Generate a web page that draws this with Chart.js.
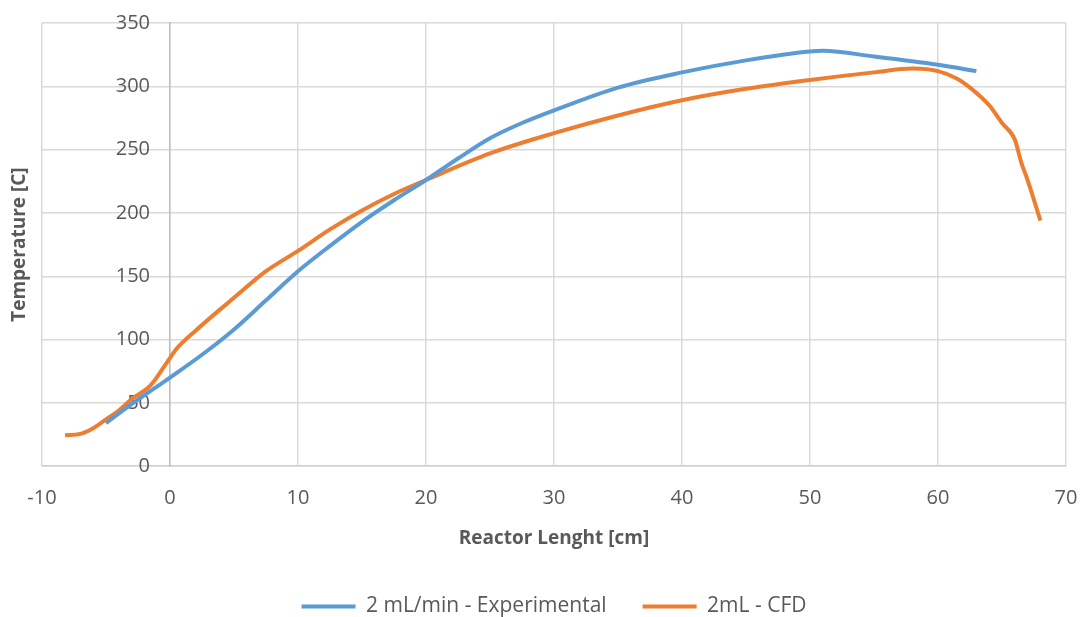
<!DOCTYPE html>
<html>
<head>
<meta charset="utf-8">
<script src="https://cdn.jsdelivr.net/npm/chart.js@4"></script>
<style>
  html, body { margin: 0; padding: 0; background: #fff; }
  #wrap { width: 1083px; height: 617px; }
</style>
</head>
<body>
<div id="wrap"><canvas id="tempChart"></canvas></div>
<script>
// Experimental series (reactor length in cm, temperature in C)
const expLength = [-5, -3, 0, 2.5, 5, 7.5, 10, 12.5, 15, 17.5, 20, 22.5, 25, 27.5, 30, 35, 40, 45, 50, 51, 55, 60, 63];
const expTemp   = [34, 49, 70, 88, 108, 131, 154, 174, 193, 210, 226, 243, 259, 271, 281, 299, 311, 320.5, 327.5, 328, 323.5, 317, 312];

// CFD series
const cfdLength = [-8.2, -7, -6, -5, -4, -3, -1.5, -0.3, 0.5, 2, 5, 7.5, 10, 12.5, 15, 17.5, 20, 25, 30, 35, 40, 45, 50, 55, 58, 60, 61.5, 62.5, 64, 65, 66, 66.5, 67, 68];
const cfdTemp   = [24.5, 25.5, 30, 37, 44, 53, 64, 81, 92.5, 107, 133, 154, 170, 187, 202, 215, 226, 247, 263, 277, 289, 298, 305, 311, 314, 312, 306, 299, 285, 271, 258, 240, 226, 194];

const seriesNames = ['2 mL/min - Experimental', '2mL - CFD'];
const xTitle = 'Reactor Lenght [cm]';
const yTitle = 'Temperature [C]';

const FONT = "'Open Sans', 'Noto Sans', sans-serif";
const TEXT = '#595959';

function toPoints(xs, ys) {
    return xs.map((x, i) => ({x: x, y: ys[i]}));
}

// y axis sits at x = 0, so its title is drawn at the left edge by hand
const yTitlePlugin = {
    id: 'yTitle',
    afterDraw(chart) {
        const ctx = chart.ctx;
        const area = chart.chartArea;
        ctx.save();
        ctx.translate(20, (area.top + area.bottom) / 2);
        ctx.rotate(-Math.PI / 2);
        ctx.font = "bold 19px " + FONT;
        ctx.fillStyle = TEXT;
        ctx.textAlign = 'center';
        ctx.textBaseline = 'middle';
        ctx.fillText(yTitle, 0, 0);
        ctx.restore();
    }
};

const ctx = document.getElementById('tempChart').getContext('2d');
new Chart(ctx, {
    type: 'line',
    data: {
        datasets: [
            {
                label: seriesNames[0],
                data: toPoints(expLength, expTemp),
                borderColor: '#5B9BD5',
                backgroundColor: '#5B9BD5',
                borderWidth: 4,
                pointRadius: 0,
                cubicInterpolationMode: 'monotone',
                fill: false
            },
            {
                label: seriesNames[1],
                data: toPoints(cfdLength, cfdTemp),
                borderColor: '#ED7D31',
                backgroundColor: '#ED7D31',
                borderWidth: 4,
                pointRadius: 0,
                cubicInterpolationMode: 'monotone',
                fill: false
            }
        ]
    },
    options: {
        responsive: true,
        maintainAspectRatio: false,
        animation: false,
        layout: {
            padding: {left: 42, right: 17, top: 23, bottom: -10}
        },
        plugins: {
            legend: {
                position: 'bottom',
                labels: {
                    usePointStyle: true,
                    pointStyle: 'line',
                    pointStyleWidth: 54,
                    color: TEXT,
                    font: {family: FONT, size: 21},
                    padding: 36
                }
            },
            tooltip: {enabled: false}
        },
        scales: {
            x: {
                type: 'linear',
                min: -10,
                max: 70,
                ticks: {
                    stepSize: 10,
                    color: TEXT,
                    font: {family: FONT, size: 20},
                    padding: 5
                },
                grid: {
                    color: '#d9d9d9',
                    lineWidth: 1.5,
                    drawTicks: true,
                    tickLength: 15,
                    tickColor: 'rgba(0,0,0,0)'
                },
                border: {color: '#d0d0d0', width: 1.5},
                title: {
                    display: true,
                    text: xTitle,
                    color: TEXT,
                    font: {family: FONT, size: 19, weight: 'bold'},
                    padding: {top: 12, bottom: 10}
                }
            },
            y: {
                position: {x: 0},
                min: 0,
                max: 350,
                ticks: {
                    stepSize: 50,
                    color: TEXT,
                    font: {family: FONT, size: 20},
                    padding: 0,
                    // keep the labels clear of the axis line
                    callback: (v) => v + '\u2002\u2002'
                },
                grid: {
                    color: '#d9d9d9',
                    lineWidth: 1.5,
                    drawTicks: false
                },
                border: {color: '#bfbfbf', width: 1.5}
            }
        }
    },
    plugins: [yTitlePlugin]
});
</script>
</body>
</html>
